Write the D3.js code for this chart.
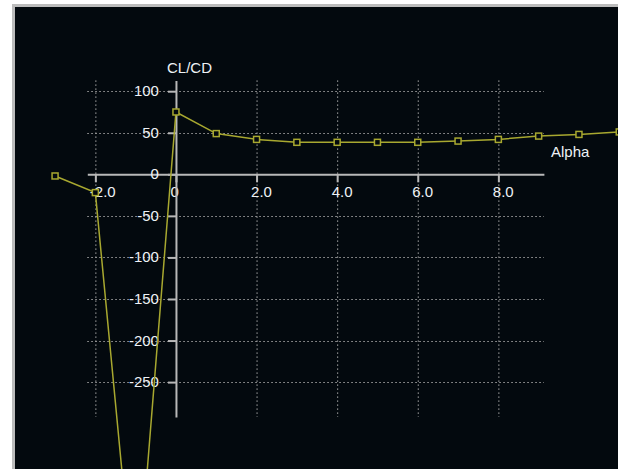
<!DOCTYPE html>
<html>
<head>
<meta charset="utf-8">
<script src="https://cdn.jsdelivr.net/npm/d3@7"></script>
<style>
  body { margin: 0; background: #ffffff; }
  svg { display: block; }
</style>
</head>
<body>
<div id="view1"></div>
<script>
// data
const alpha = [-3, -2, -1, 0, 1, 2, 3, 4, 5, 6, 7, 8, 9, 10, 11];
const clcd  = [-2, -22, -530, 75, 49, 42, 38.5, 38.5, 38.5, 38.5, 40, 42, 46, 48, 51];

const xTicks = [-2, 0, 2, 4, 6, 8];
const xTickLabels = ["-2.0", "0", "2.0", "4.0", "6.0", "8.0"];
const yTicks = [100, 50, 0, -50, -100, -150, -200, -250];
const yTickLabels = ["100", "50", "0", "-50", "-100", "-150", "-200", "-250"];

const width = 618;
const height = 469;

const data = alpha.map((a, i) => ({ a: a, v: clcd[i] }));

const svg = d3.select("#view1")
  .append("svg")
    .attr("width", width)
    .attr("height", height);

// frame + dark panel
svg.append("rect")
  .attr("x", 12).attr("y", 4)
  .attr("width", width - 12).attr("height", height - 4)
  .attr("fill", "#bcbcbc");
svg.append("rect")
  .attr("x", 15).attr("y", 7)
  .attr("width", width - 15).attr("height", height - 7)
  .attr("fill", "#03090e");

const x = d3.scaleLinear()
  .domain([-2.2, 9.13])
  .range([87.3, 543.9]);

const y = d3.scaleLinear()
  .domain([-292, 113])
  .range([417, 80.4]);

const font = "'Liberation Sans', Arial, sans-serif";
const textColor = "#eef2f6";

// dotted gridlines
svg.selectAll("xGrid")
  .data(xTicks.filter(d => d !== 0))
  .join("line")
  .attr("x1", d => x(d) + 0.5).attr("x2", d => x(d) + 0.5)
  .attr("y1", y.range()[1]).attr("y2", y.range()[0])
  .attr("stroke", "#a4a4a4")
  .attr("stroke-width", 1)
  .attr("stroke-dasharray", "1.5,2.5");

svg.selectAll("yGrid")
  .data(yTicks.filter(d => d !== 0))
  .join("line")
  .attr("x1", x.range()[0]).attr("x2", x.range()[1])
  .attr("y1", d => Math.round(y(d)) + 0.5).attr("y2", d => Math.round(y(d)) + 0.5)
  .attr("stroke", "#a4a4a4")
  .attr("stroke-width", 1)
  .attr("stroke-dasharray", "1.5,2.5");

// x axis through zero
const xAxis = svg.append("g")
  .attr("transform", `translate(0,${y(0)})`)
  .call(d3.axisBottom(x)
    .tickValues(xTicks)
    .tickFormat((d, i) => xTickLabels[i])
    .tickSizeInner(8)
    .tickSizeOuter(0)
    .tickPadding(4));
xAxis.select(".domain").attr("stroke", "#b8b8b8").attr("stroke-width", 2);
xAxis.selectAll(".tick line").attr("stroke", "#b8b8b8").attr("stroke-width", 2);
xAxis.selectAll(".tick text")
  .attr("text-anchor", "start")
  .attr("x", -6)
  .attr("y", 23)
  .attr("dy", 0)
  .style("font-family", font)
  .style("font-size", "15px")
  .attr("fill", textColor);

// y axis through zero
const yAxis = svg.append("g")
  .attr("transform", `translate(${x(0)},0)`)
  .call(d3.axisLeft(y)
    .tickValues(yTicks)
    .tickFormat((d, i) => yTickLabels[i])
    .tickSizeInner(8)
    .tickSizeOuter(0)
    .tickPadding(9));
yAxis.select(".domain").attr("stroke", "#b8b8b8").attr("stroke-width", 2);
yAxis.selectAll(".tick line").attr("stroke", "#b8b8b8").attr("stroke-width", 2);
yAxis.selectAll(".tick text")
  .attr("x", -17)
  .attr("dy", 0)
  .attr("y", 4.5)
  .style("font-family", font)
  .style("font-size", "15px")
  .attr("fill", textColor);

// axis titles
svg.append("text")
  .attr("x", 167)
  .attr("y", 73)
  .style("font-family", font)
  .style("font-size", "15px")
  .attr("fill", textColor)
  .text("CL/CD");

svg.append("text")
  .attr("x", 551)
  .attr("y", 157)
  .style("font-family", font)
  .style("font-size", "15px")
  .attr("fill", textColor)
  .text("Alpha");

// the series
const lineColor = "#a8a830";

svg.append("path")
  .datum(data)
  .attr("d", d3.line()
    .x(d => x(d.a))
    .y(d => y(d.v)))
  .attr("fill", "none")
  .attr("stroke", lineColor)
  .attr("stroke-width", 1.5);

svg.selectAll("marker")
  .data(data)
  .join("rect")
  .attr("x", d => x(d.a) - 3)
  .attr("y", d => y(d.v) - 3)
  .attr("width", 6)
  .attr("height", 6)
  .attr("fill", "#03090e")
  .attr("stroke", lineColor)
  .attr("stroke-width", 1.5);
</script>
</body>
</html>
